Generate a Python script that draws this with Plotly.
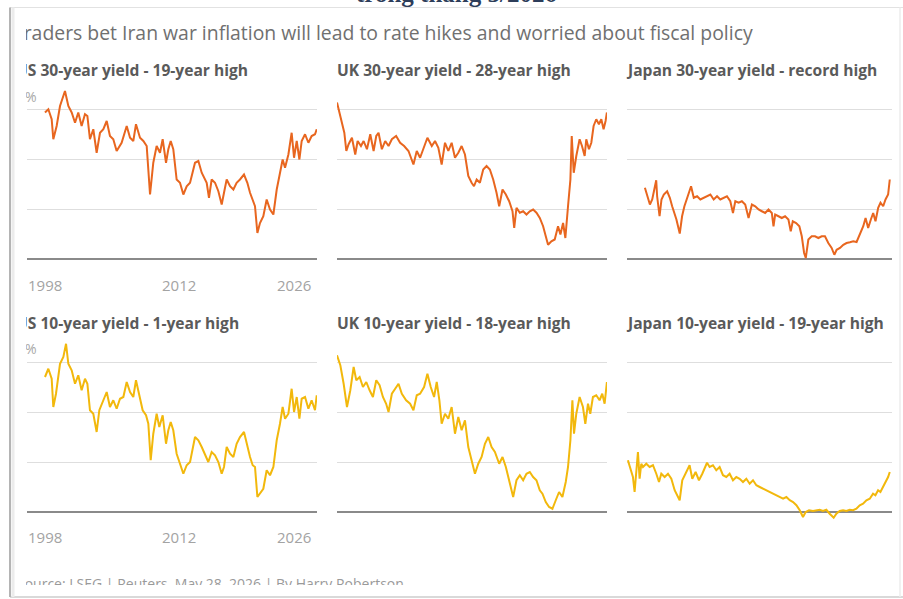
import plotly.graph_objects as go

# ---------------- data ----------------
us30_year = [1998.00,1998.35,1998.70,1998.87,1999.22,1999.57,2000.09,2000.44,2000.79,2001.14,
             2001.48,2001.83,2002.18,2002.43,2002.70,2003.05,2003.40,2003.75,2004.10,2004.45,
             2004.79,2005.14,2005.49,2006.01,2006.54,2006.89,2007.23,2007.51,2007.93,2008.28,
             2008.63,2008.98,2009.32,2009.67,2010.02,2010.30,2010.65,2010.89,2011.14,2011.41,
             2011.76,2012.11,2012.46,2012.81,2013.16,2013.68,2014.03,2014.38,2014.90,2015.14,
             2015.42,2015.77,2016.12,2016.47,2016.71,2016.99,2017.34,2017.69,2018.03,2018.38,
             2018.80,2019.15,2019.43,2019.71,2019.95,2020.20,2020.47,2020.82,2021.17,2021.52,
             2021.87,2022.22,2022.56,2022.84,2023.09,2023.44,2023.78,2024.03,2024.31,2024.59,
             2024.83,2025.18,2025.53,2025.87,2026.22,2026.40]
us30_yield = [5.86,5.99,5.59,4.79,5.32,6.12,6.72,6.12,5.86,5.45,
              5.86,5.32,5.79,5.72,4.79,5.19,4.25,5.05,5.19,5.52,
              4.92,4.79,4.32,4.65,5.32,4.85,4.72,5.39,4.85,4.72,
              4.52,2.58,3.85,4.52,4.25,4.79,3.85,4.39,4.72,4.39,
              3.18,3.05,2.58,2.91,3.05,3.85,3.92,3.45,3.05,2.45,
              3.18,3.05,2.71,2.18,2.65,3.18,2.91,2.78,3.05,3.18,
              3.38,3.05,2.65,2.38,2.11,1.04,1.44,1.71,2.38,1.98,
              1.78,2.78,3.45,3.98,3.65,4.18,5.05,4.05,4.72,3.98,
              4.72,4.99,4.65,4.92,4.99,5.19]

uk30_year = [1998.00,1998.28,1998.52,1998.77,1998.98,1999.22,1999.57,1999.92,2000.17,2000.52,
             2000.80,2001.15,2001.50,2001.85,2002.13,2002.37,2002.72,2003.07,2003.42,2003.77,
             2004.22,2004.64,2005.06,2005.52,2006.04,2006.39,2006.74,2007.09,2007.51,2007.97,
             2008.31,2008.66,2009.01,2009.36,2009.71,2010.06,2010.41,2010.76,2011.11,2011.46,
             2011.81,2012.16,2012.41,2012.69,2013.03,2013.38,2013.73,2014.08,2014.43,2014.78,
             2015.06,2015.41,2015.76,2016.11,2016.46,2016.64,2016.88,2017.23,2017.58,2017.93,
             2018.28,2018.63,2018.98,2019.33,2019.68,2019.96,2020.20,2020.55,2020.90,2021.25,
             2021.50,2021.78,2022.02,2022.30,2022.55,2022.69,2022.90,2023.17,2023.52,2023.77,
             2024.05,2024.22,2024.50,2024.75,2024.99,2025.27,2025.55,2025.80,2026.04,2026.25,
             2026.39]
uk30_yield = [6.26,5.86,5.45,5.05,4.32,4.59,4.85,4.18,4.72,4.52,
              4.72,4.39,4.99,4.32,4.92,5.05,4.39,4.72,4.52,4.79,
              4.92,4.65,4.52,4.32,3.78,4.32,4.05,4.45,4.85,4.52,
              4.72,4.45,3.78,4.65,4.32,4.65,4.05,4.25,4.52,4.18,
              3.32,3.05,2.91,3.18,3.05,3.58,3.72,3.58,3.18,2.65,
              2.11,2.78,2.58,2.31,1.91,1.24,2.05,1.85,1.91,1.78,
              1.91,1.98,1.85,1.64,1.31,0.91,0.57,0.71,0.78,1.31,
              0.98,1.44,0.84,2.11,3.18,4.92,3.45,4.12,4.79,4.52,
              4.12,4.79,4.39,4.65,5.32,5.59,5.39,5.59,5.19,5.52,
              5.86]

jp30_year = [1999.83,2000.08,2000.37,2000.62,2001.05,2001.15,2001.41,2001.62,2001.87,2002.23,
             2002.52,2002.77,2003.02,2003.23,2003.59,2003.84,2004.09,2004.38,2004.63,2004.81,
             2005.10,2005.46,2005.81,2006.17,2006.53,2006.89,2007.25,2007.61,2007.96,2008.32,
             2008.68,2009.04,2009.33,2009.58,2009.94,2010.29,2010.65,2011.01,2011.37,2011.73,
             2012.09,2012.44,2012.80,2013.16,2013.52,2013.70,2013.88,2014.24,2014.59,2014.95,
             2015.31,2015.56,2015.78,2016.14,2016.49,2016.75,2017.00,2017.18,2017.46,2017.82,
             2018.18,2018.54,2018.90,2019.25,2019.61,2019.97,2020.26,2020.51,2020.87,2021.23,
             2021.58,2021.94,2022.30,2022.66,2023.02,2023.38,2023.63,2023.91,2024.20,2024.45,
             2024.70,2024.99,2025.24,2025.53,2025.78,2026.06,2026.24]
jp30_yield = [2.85,2.58,2.18,2.38,3.15,2.51,1.71,2.38,2.58,2.71,
              2.45,2.11,1.84,1.58,1.02,1.71,2.11,2.45,2.65,2.91,
              2.45,2.51,2.38,2.45,2.51,2.58,2.38,2.51,2.38,2.45,
              2.51,2.31,1.84,2.31,2.25,2.31,2.18,1.64,2.18,2.11,
              1.98,1.91,1.84,1.98,1.84,1.31,1.78,1.71,1.64,1.71,
              1.58,1.11,1.51,1.44,1.31,0.91,0.24,0.04,0.78,0.91,
              0.91,0.84,0.91,0.91,0.64,0.44,0.17,0.37,0.44,0.57,
              0.64,0.67,0.71,0.68,0.98,1.31,1.64,1.24,1.58,1.84,
              1.51,2.05,2.25,2.11,2.38,2.58,3.18]

us10_year = [1998.00,1998.35,1998.70,1998.87,1999.15,1999.57,1999.92,2000.20,2000.44,2000.79,
             2001.14,2001.48,2001.83,2002.18,2002.43,2002.70,2003.05,2003.40,2003.68,2004.10,
             2004.45,2004.79,2005.14,2005.49,2005.84,2006.19,2006.54,2006.89,2007.23,2007.51,
             2007.86,2008.21,2008.56,2008.80,2009.05,2009.32,2009.67,2009.95,2010.30,2010.65,
             2010.89,2011.14,2011.41,2011.76,2012.11,2012.46,2012.81,2013.16,2013.68,2014.03,
             2014.38,2014.72,2015.07,2015.42,2015.77,2016.12,2016.47,2016.71,2016.99,2017.34,
             2017.69,2018.03,2018.38,2018.80,2019.15,2019.43,2019.71,2019.95,2020.20,2020.47,
             2020.82,2021.17,2021.52,2021.87,2022.22,2022.56,2022.84,2023.09,2023.44,2023.78,
             2024.03,2024.31,2024.59,2024.83,2025.18,2025.53,2025.87,2026.22,2026.40]
us10_yield = [5.40,5.73,5.33,4.20,4.73,5.93,6.20,6.73,5.93,5.67,
              5.13,5.47,4.87,5.33,5.13,4.07,3.93,3.20,4.07,4.47,
              4.80,4.20,4.47,4.13,4.53,4.60,5.20,4.80,4.60,5.27,
              4.60,4.07,3.87,3.53,2.07,3.13,3.93,3.40,3.87,2.73,
              3.27,3.60,3.27,2.33,1.93,1.53,1.87,2.00,3.00,2.87,
              2.60,2.27,2.00,2.40,2.27,2.00,1.53,1.80,2.60,2.33,
              2.20,2.73,3.00,3.20,2.60,2.20,1.87,1.80,0.60,0.73,
              0.93,1.67,1.47,1.80,2.87,3.53,4.20,3.73,3.93,4.93,
              4.00,4.60,3.73,4.53,4.60,4.13,4.47,4.07,4.67]

uk10_year = [1998.00,1998.35,1998.70,1999.05,1999.40,1999.75,2000.03,2000.38,2000.73,2001.08,
             2001.43,2001.78,2002.13,2002.48,2002.83,2003.17,2003.42,2003.77,2004.12,2004.47,
             2004.82,2005.27,2005.69,2006.04,2006.39,2006.74,2007.16,2007.51,2007.86,2008.21,
             2008.49,2008.77,2009.01,2009.36,2009.71,2010.06,2010.41,2010.76,2011.11,2011.46,
             2011.81,2012.16,2012.51,2012.86,2013.21,2013.56,2013.91,2014.26,2014.61,2015.06,
             2015.41,2015.76,2016.11,2016.53,2016.88,2017.23,2017.58,2017.93,2018.28,2018.63,
             2018.98,2019.33,2019.61,2019.96,2020.31,2020.66,2021.01,2021.36,2021.71,2022.06,
             2022.30,2022.55,2022.76,2022.93,2023.17,2023.52,2023.87,2024.12,2024.40,2024.64,
             2024.92,2025.27,2025.62,2025.90,2026.15,2026.39]
uk10_yield = [6.27,5.87,5.13,4.20,4.87,5.80,5.27,5.40,5.00,5.20,
              4.87,4.60,5.27,5.07,4.60,4.33,4.00,4.73,4.93,5.13,
              4.73,4.47,4.33,4.07,4.67,4.73,5.00,5.53,5.00,4.60,
              5.20,4.47,3.53,3.93,3.73,4.20,3.13,3.80,3.27,3.67,
              2.60,2.07,1.53,1.93,2.20,2.73,3.00,2.60,2.40,1.93,
              2.20,1.80,1.27,0.60,1.27,1.47,1.27,1.53,1.60,1.40,
              1.27,0.87,0.73,0.40,0.20,0.13,0.47,0.80,0.60,1.20,
              1.80,2.87,4.47,3.13,3.93,4.60,4.20,3.53,4.33,3.93,
              4.60,4.67,4.47,4.73,4.33,5.20]

jp10_year = [1998.00,1998.25,1998.54,1998.72,1998.90,1999.08,1999.26,1999.44,1999.62,1999.98,
             2000.34,2000.70,2001.06,2001.35,2001.60,2001.96,2002.32,2002.68,2003.04,2003.58,
             2003.86,2004.22,2004.65,2004.94,2005.30,2005.66,2006.02,2006.53,2006.81,2007.17,
             2007.53,2007.89,2008.25,2008.61,2008.97,2009.33,2009.69,2010.05,2010.41,2010.77,
             2011.13,2011.49,2011.85,2012.21,2012.57,2012.93,2013.29,2013.65,2014.01,2014.37,
             2014.73,2015.09,2015.45,2015.81,2016.17,2016.53,2016.88,2017.17,2017.53,2017.96,
             2018.32,2018.68,2019.04,2019.40,2019.76,2020.19,2020.48,2020.84,2021.20,2021.56,
             2021.92,2022.28,2022.64,2023.00,2023.36,2023.72,2024.08,2024.44,2024.69,2024.98,
             2025.23,2025.52,2025.81,2026.06,2026.24]
jp10_yield = [2.07,1.80,1.40,0.80,1.80,2.40,1.33,1.93,1.80,1.93,
              1.80,1.87,1.53,1.20,1.53,1.40,1.53,1.33,0.87,0.47,
              1.27,1.53,1.87,1.33,1.60,1.27,1.53,1.97,1.80,1.87,
              1.67,1.80,1.47,1.40,1.53,1.27,1.40,1.33,1.20,1.33,
              1.13,1.27,1.07,1.00,0.93,0.87,0.80,0.73,0.67,0.60,
              0.53,0.60,0.47,0.40,0.27,0.07,-0.20,0.00,0.07,0.04,
              0.07,0.09,0.04,0.09,-0.07,-0.23,-0.07,0.04,0.07,0.04,
              0.09,0.07,0.13,0.27,0.33,0.47,0.53,0.73,0.67,0.87,
              0.80,1.00,1.20,1.40,1.60]

panel_titles = ["US 30-year yield - 19-year high", "UK 30-year yield - 28-year high",
                "Japan 30-year yield - record high", "US 10-year yield - 1-year high",
                "UK 10-year yield - 18-year high", "Japan 10-year yield - 19-year high"]
y_tick_labels = ["6%", "4", "2", "0"]
x_tick_years = [1998, 2012, 2026]
subtitle = "Traders bet Iran war inflation will lead to rate hikes and worried about fiscal policy"
source = "Source: LSEG | Reuters, May 28, 2026 | By Harry Robertson"
page_title = "trong tháng 5/2026"

# ---------------- layout helpers ----------------
W, H = 903, 599
def fx(p): return p / W
def fy(p): return 1 - p / H

ORANGE = "#e8661f"
YELLOW = "#f2b80c"
FONT = "Open Sans"

series = [(us30_year, us30_yield, ORANGE), (uk30_year, uk30_yield, ORANGE), (jp30_year, jp30_yield, ORANGE),
          (us10_year, us10_yield, YELLOW), (uk10_year, uk10_yield, YELLOW), (jp10_year, jp10_yield, YELLOW)]
cols = [(27, 317, [1996.12, 2026.43]), (337, 607, [1998.0, 2026.4]), (627, 892, [1997.9, 2026.48])]
rows = [(84, 269), (337, 522)]
YR = [-0.4, 7.0]

fig = go.Figure()
layout = dict(width=W, height=H, margin=dict(l=0, r=0, t=0, b=0),
              paper_bgcolor="white", plot_bgcolor="rgba(0,0,0,0)", showlegend=False,
              font=dict(family=FONT))
for i, (xs, ys, col) in enumerate(series):
    r, c = divmod(i, 3)
    n = i + 1
    fig.add_trace(go.Scatter(x=xs, y=ys, mode="lines", line=dict(color=col, width=2),
                             xaxis=f"x{n}", yaxis=f"y{n}", hoverinfo="skip"))
    x0, x1, xr = cols[c]
    y0, y1 = rows[r]
    layout[f"xaxis{n}"] = dict(domain=[fx(x0), fx(x1)], range=xr, showgrid=False, zeroline=False,
                               showticklabels=False, showline=False, ticks="", anchor=f"y{n}")
    layout[f"yaxis{n}"] = dict(domain=[fy(y1), fy(y0)], range=YR, tickvals=[2, 4, 6], showgrid=True,
                               gridcolor="#dedede", gridwidth=1, zeroline=True, zerolinecolor="#8a8a8a",
                               zerolinewidth=2.2, showticklabels=False, showline=False, ticks="",
                               anchor=f"x{n}")

# overlay subplot in pixel units, used to clip the texts cut by the screenshot edge
layout["xaxis7"] = dict(domain=[fx(26), 1], range=[26, W], visible=False, anchor="y7")
layout["yaxis7"] = dict(domain=[fy(585), fy(8)], range=[585, 8], visible=False, anchor="x7")

def clip_text(x, y, text, size, color, weight="normal"):
    fig.add_trace(go.Scatter(x=[x], y=[y], mode="text", text=[text], textposition="middle right",
                             textfont=dict(family=FONT, size=size, color=color, weight=weight),
                             cliponaxis=True, xaxis="x7", yaxis="y7", hoverinfo="skip"))

clip_text(13, 35, subtitle, 19.4, "#707070")
title_pos = [(16, 72), (337, 72), (628, 72), (16, 325), (337, 325), (628, 325)]
for (tx, ty), t in zip(title_pos, panel_titles):
    clip_text(tx, ty, t, 15.6, "#5a5a5a", "bold")
for base in (0, 252):
    for k, lab in enumerate(y_tick_labels):
        clip_text(17, 98 + base + 50 * k, lab, 14, "#a8a8a8")
clip_text(17, 585, source, 14, "#9a9a9a")

annotations = []
for r, ypx in ((0, 285), (1, 537)):
    ax = "x1" if r == 0 else "x4"
    for k, yr in enumerate(x_tick_years):
        anchor = "center" if k < 2 else "right"
        annotations.append(dict(x=yr, y=fy(ypx), xref=ax, yref="paper", text=str(yr), showarrow=False,
                                xanchor=anchor, yanchor="middle",
                                font=dict(family=FONT, size=15, color="#a3a3a3")))
annotations.append(dict(x=fx(457), y=fy(-7), xref="paper", yref="paper", text=page_title, showarrow=False,
                        xanchor="center", yanchor="middle",
                        font=dict(family="Liberation Serif", size=25, color="#2d3d5a", weight="bold")))
layout["annotations"] = annotations

shapes = [
    dict(type="line", xref="paper", yref="paper", x0=fx(10), x1=1, y0=fy(7.5), y1=fy(7.5),
         line=dict(color="#e2e2e2", width=1)),
    dict(type="line", xref="paper", yref="paper", x0=fx(10), x1=1, y0=fy(597), y1=fy(597),
         line=dict(color="#cdcdcd", width=1.5)),
    dict(type="line", xref="paper", yref="paper", x0=fx(13), x1=fx(13), y0=fy(597), y1=fy(7.5),
         line=dict(color="#ececec", width=3)),
    dict(type="line", xref="paper", yref="paper", x0=fx(10), x1=fx(10), y0=fy(597), y1=fy(7.5),
         line=dict(color="#b4b4b4", width=2)),
    dict(type="line", xref="paper", yref="paper", x0=fx(900), x1=fx(900), y0=fy(597), y1=fy(7.5),
         line=dict(color="#ececec", width=1.5)),
]
layout["shapes"] = shapes

fig.update_layout(**layout)
fig.write_html("out.html", config={"displayModeBar": False},
               post_script="document.body.style.margin='0';document.body.style.overflow='hidden';")
